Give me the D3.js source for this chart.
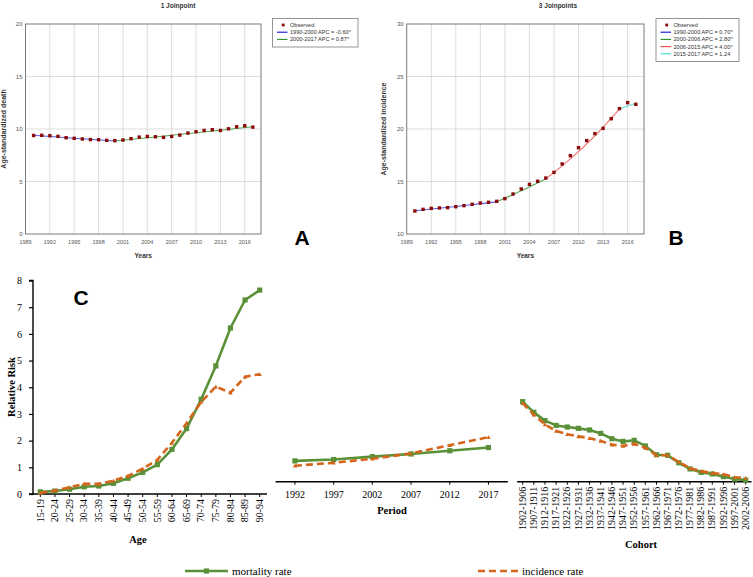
<!DOCTYPE html>
<html><head><meta charset="utf-8">
<script src="https://cdn.jsdelivr.net/npm/d3@7"></script>
<style>body{margin:0;background:#fff;} svg{display:block;}</style>
</head><body><svg id="c" width="753" height="577"></svg>
<script>
// ---------- DATA ----------
const years = [1990,1991,1992,1993,1994,1995,1996,1997,1998,1999,2000,2001,2002,2003,2004,2005,2006,2007,2008,2009,2010,2011,2012,2013,2014,2015,2016,2017];
const deathObs = [9.38,9.40,9.36,9.30,9.17,9.11,9.05,8.99,8.98,8.92,8.89,8.95,9.08,9.23,9.29,9.26,9.20,9.29,9.42,9.61,9.74,9.86,9.93,9.86,10.02,10.21,10.31,10.18];
const incObs = [12.19,12.35,12.44,12.48,12.51,12.60,12.70,12.83,12.95,13.02,13.11,13.37,13.81,14.29,14.73,15.02,15.33,15.87,16.67,17.46,18.22,18.89,19.56,20.06,20.98,21.94,22.51,22.35];
// fitted joinpoint segments (knots)
const deathSeg1 = [[1990,9.40],[1995,9.12],[2000,8.86]];
const deathSeg2 = [[2000,8.86],[2005,9.24],[2010,9.65],[2017,10.22]];
const incSeg1 = [[1990,12.22],[1995,12.62],[2000,13.06]];
const incSeg2 = [[2000,13.06],[2003,14.12],[2006,15.25]];
const incSeg3 = [[2006,15.25],[2009,17.15],[2012,19.35],[2015,21.90]];
const incSeg4 = [[2015,21.90],[2017,22.45]];
const yearTicks = [1989,1992,1995,1998,2001,2004,2007,2010,2013,2016];
const deathTicks = [0,5,10,15,20];
const incTicks = [10,15,20,25,30];
const legendA = ["Observed","1990-2000 APC  = -0.60^","2000-2017 APC  = 0.87^"];
const legendB = ["Observed","1990-2000 APC  = 0.70^","2000-2006 APC  = 2.80^","2006-2015 APC  = 4.00^","2015-2017 APC  = 1.24"];

const ageGroups = ["15-19","20-24","25-29","30-34","35-39","40-44","45-49","50-54","55-59","60-64","65-69","70-74","75-79","80-84","85-89","90-94"];
const ageMort = [0.08,0.11,0.18,0.27,0.30,0.40,0.59,0.81,1.10,1.67,2.45,3.55,4.80,6.22,7.27,7.64];
const ageInc  = [0.04,0.13,0.25,0.38,0.38,0.50,0.68,0.95,1.28,1.92,2.65,3.45,4.02,3.80,4.39,4.49];
const periods = ["1992","1997","2002","2007","2012","2017"];
const perMort = [1.24,1.29,1.40,1.50,1.62,1.74];
const perInc  = [1.06,1.17,1.32,1.52,1.83,2.13];
const cohorts = ["1902-1906","1907-1911","1912-1916","1917-1921","1922-1926","1927-1931","1932-1936","1937-1941","1942-1946","1947-1951","1952-1956","1957-1961","1962-1966","1967-1971","1972-1976","1977-1981","1982-1986","1987-1991","1992-1996","1997-2001","2002-2006"];
const cohMort = [3.46,3.06,2.75,2.57,2.51,2.46,2.40,2.27,2.07,1.97,2.01,1.80,1.47,1.45,1.17,0.94,0.81,0.75,0.65,0.56,0.52];
const cohInc  = [3.40,2.97,2.61,2.36,2.24,2.16,2.09,1.99,1.85,1.80,1.88,1.73,1.45,1.45,1.20,0.97,0.85,0.79,0.74,0.63,0.60];
const rrTicks = [0,1,2,3,4,5,6,7,8];

// ---------- DRAW ----------
const svg = d3.select("#c");
const SANS = "'Liberation Sans', Arial, sans-serif";
const SERIF = "'Liberation Serif', 'Times New Roman', serif";

function joinpointPanel(o){
  const g = svg.append("g");
  const x = d3.scaleLinear([1989,2018],[o.x0,o.x1]);
  const y = d3.scaleLinear(o.ydom,[o.y1,o.y0]);
  g.selectAll(".vg").data(yearTicks.slice(1)).join("line")
    .attr("x1",d=>x(d)).attr("x2",d=>x(d)).attr("y1",o.y0).attr("y2",o.y1)
    .attr("stroke","#d4d4d4").attr("stroke-width",0.8);
  g.selectAll(".hg").data(o.yticks.slice(1,-1)).join("line")
    .attr("x1",o.x0).attr("x2",o.x1).attr("y1",d=>y(d)).attr("y2",d=>y(d))
    .attr("stroke","#d4d4d4").attr("stroke-width",0.8);
  g.append("rect").attr("x",o.x0).attr("y",o.y0).attr("width",o.x1-o.x0).attr("height",o.y1-o.y0)
    .attr("fill","none").attr("stroke","#7a7a7a").attr("stroke-width",1);
  g.selectAll(".xt").data(yearTicks).join("text")
    .attr("x",d=>x(d)).attr("y",o.y1+10).attr("text-anchor","middle")
    .attr("font-family",SANS).attr("font-size",5.5).attr("fill","#555").text(d=>d);
  g.selectAll(".yt").data(o.yticks).join("text")
    .attr("x",o.x0-3).attr("y",d=>y(d)+2).attr("text-anchor","end")
    .attr("font-family",SANS).attr("font-size",6).attr("fill","#555").text(d=>d);
  g.append("text").attr("x",o.tx).attr("y",8).attr("text-anchor","middle")
    .attr("font-family",SANS).attr("font-weight","bold").attr("font-size",6.5).attr("fill","#333").text(o.title);
  g.append("text").attr("x",(o.x0+o.x1)/2).attr("y",o.y1+24).attr("text-anchor","middle")
    .attr("font-family",SANS).attr("font-weight","bold").attr("font-size",6.5).attr("fill","#333").text("Years");
  g.append("text").attr("transform",`translate(${o.ylx},${(o.y0+o.y1)/2}) rotate(-90)`).attr("text-anchor","middle")
    .attr("font-family",SANS).attr("font-weight","bold").attr("font-size",7).attr("fill","#333").text(o.ylab);
  const line = d3.line().x(d=>x(d[0])).y(d=>y(d[1])).curve(d3.curveMonotoneX);
  o.segs.forEach((s,i)=>{
    g.append("path").attr("d",line(s)).attr("fill","none").attr("stroke",o.segColors[i]).attr("stroke-width",1.1);
  });
  g.selectAll(".pt").data(years.map((yr,i)=>[yr,o.obs[i]])).join("rect")
    .attr("x",d=>x(d[0])-1.7).attr("y",d=>y(d[1])-1.7).attr("width",3.4).attr("height",3.4)
    .attr("fill","#8b0a0a");
  const L = o.leg;
  g.append("rect").attr("x",L.x).attr("y",L.y).attr("width",L.w).attr("height",L.h)
    .attr("fill","#fff").attr("stroke","#8a8a8a").attr("stroke-width",0.9);
  o.legText.forEach((t,i)=>{
    const yy = L.y + 6.5 + i*7.2;
    if(i===0){
      g.append("rect").attr("x",L.x+9.3).attr("y",yy-1.4).attr("width",2.8).attr("height",2.8).attr("fill","#8b0a0a");
    } else {
      g.append("line").attr("x1",L.x+4.5).attr("x2",L.x+15).attr("y1",yy).attr("y2",yy)
        .attr("stroke",o.legColors[i-1]).attr("stroke-width",1.1);
    }
    g.append("text").attr("x",L.x+17.5).attr("y",yy+2).attr("font-family",SANS).attr("font-size",5.6)
      .attr("fill","#333").text(t);
  });
}

joinpointPanel({x0:25.5,x1:261,y0:24,y1:234,ydom:[0,20],yticks:deathTicks,obs:deathObs,
  segs:[deathSeg1,deathSeg2],segColors:["#5a5ae6","#55a855"],legColors:["#1010e0","#2a8f2a"],
  title:"1 Joinpoint",tx:178,ylab:"Age-standardized death",ylx:6,
  leg:{x:272.5,y:18.5,w:85.5,h:28.5},legText:legendA});
joinpointPanel({x0:406.7,x1:644,y0:24,y1:234,ydom:[10,30],yticks:incTicks,obs:incObs,
  segs:[incSeg1,incSeg2,incSeg3,incSeg4],segColors:["#5a5ae6","#55a855","#f07070","#66d6d0"],
  legColors:["#1010e0","#2a8f2a","#f04040","#40d8d0"],
  title:"3 Joinpoints",tx:558,ylab:"Age-standardized incidence",ylx:386,
  leg:{x:656,y:18.5,w:83,h:43},legText:legendB});

[["A",302],["B",676]].forEach(([t,xx])=>{
  svg.append("text").attr("x",xx).attr("y",245).attr("text-anchor","middle")
    .attr("font-family",SANS).attr("font-weight","bold").attr("font-size",21).attr("fill","#000").text(t);
});
svg.append("text").attr("x",81).attr("y",305).attr("text-anchor","middle")
  .attr("font-family",SANS).attr("font-weight","bold").attr("font-size",21).attr("fill","#000").text("C");

// ---------- PANEL C ----------
const GREEN = "#5a9138", ORANGE = "#d4661c";
const yC = d3.scaleLinear([0,8],[494,280.5]);
const baseAxisY = 481.7;
const xAge = d3.scaleBand(ageGroups,[33,267]);
const xPer = d3.scaleBand(periods,[275.6,507.8]);
const xCoh = d3.scaleBand(cohorts,[517.1,751.3]);

const yAx = svg.append("g").attr("transform","translate(33,0)")
  .call(d3.axisLeft(yC).tickValues(rrTicks).tickSize(4).tickPadding(7).tickFormat(d3.format("d")));
yAx.select(".domain").attr("stroke","#000").attr("stroke-width",1.4).attr("d","M-4,280.5H0V494H-4");
yAx.selectAll(".tick line").attr("stroke","#000").attr("stroke-width",1.2);
yAx.selectAll(".tick text").attr("font-family",SERIF).attr("font-size",10).attr("fill","#000");
svg.append("text").attr("transform","translate(14.5,387) rotate(-90)").attr("text-anchor","middle")
  .attr("font-family",SERIF).attr("font-weight","bold").attr("font-size",10.5).text("Relative Risk");

function catAxis(scale, yPos, x0, x1, rotate, fs, label, lx, ly){
  const g = svg.append("g").attr("transform",`translate(0,${yPos})`)
    .call(d3.axisBottom(scale).tickSize(3).tickPadding(rotate?3:6));
  g.select(".domain").attr("stroke","#000").attr("stroke-width",1.4).attr("d",`M${x0},0H${x1}`);
  g.selectAll(".tick line").attr("stroke","#000").attr("stroke-width",1);
  const tx = g.selectAll(".tick text").attr("font-family",SERIF).attr("font-size",fs).attr("fill","#000");
  if(rotate){
    tx.attr("transform","rotate(-90)").attr("text-anchor","end").attr("dy","0.32em").attr("x",-5).attr("y",0);
  }
  svg.append("text").attr("x",lx).attr("y",ly).attr("text-anchor","middle")
    .attr("font-family",SERIF).attr("font-weight","bold").attr("font-size",10.5).text(label);
}
catAxis(xAge,494,33,267,true,10,"Age",138,543);
catAxis(xPer,baseAxisY,275.6,507.8,false,10,"Period",392,514);
catAxis(xCoh,baseAxisY,517.1,751.5,true,10,"Cohort",641,548);

function series(scale, cats, vals, color, dashed){
  const bw = scale.bandwidth()/2;
  const pts = cats.map((c,i)=>[scale(c)+bw, yC(vals[i])]);
  const p = svg.append("path").attr("d",d3.line()(pts)).attr("fill","none")
    .attr("stroke",color).attr("stroke-width",2.6).attr("stroke-linejoin","round");
  if(dashed){
    p.attr("stroke-dasharray","7,4");
    svg.selectAll(null).data(pts).join("path")
      .attr("d",d=>`M${d[0]-2.2},${d[1]+1.8}L${d[0]},${d[1]-2}L${d[0]+2.2},${d[1]+1.8}Z`).attr("fill",color);
  } else {
    svg.selectAll(null).data(pts).join("rect")
      .attr("x",d=>d[0]-2.6).attr("y",d=>d[1]-2.6).attr("width",5.2).attr("height",5.2).attr("fill",color);
  }
}
series(xAge,ageGroups,ageMort,GREEN,false);
series(xAge,ageGroups,ageInc,ORANGE,true);
series(xPer,periods,perMort,GREEN,false);
series(xPer,periods,perInc,ORANGE,true);
series(xCoh,cohorts,cohMort,GREEN,false);
series(xCoh,cohorts,cohInc,ORANGE,true);

svg.append("line").attr("x1",185).attr("x2",228).attr("y1",571).attr("y2",571).attr("stroke",GREEN).attr("stroke-width",2.6);
svg.append("rect").attr("x",206.5-2.6).attr("y",571-2.6).attr("width",5.2).attr("height",5.2).attr("fill",GREEN);
svg.append("text").attr("x",232).attr("y",574.5).attr("font-family",SERIF).attr("font-size",11).text("mortality rate");
svg.append("line").attr("x1",478).attr("x2",518).attr("y1",571).attr("y2",571).attr("stroke",ORANGE).attr("stroke-width",2.6).attr("stroke-dasharray","7,4");
svg.append("text").attr("x",522).attr("y",574.5).attr("font-family",SERIF).attr("font-size",11).text("incidence rate");
</script></body></html>
